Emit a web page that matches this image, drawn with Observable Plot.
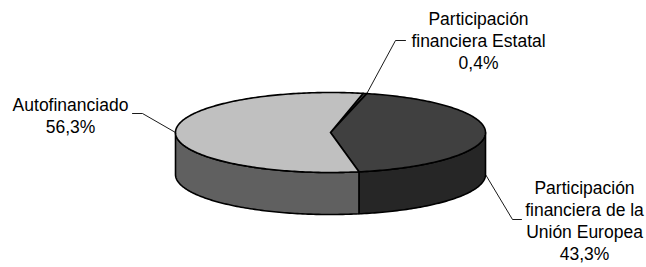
<!DOCTYPE html>
<html>
<head>
<meta charset="utf-8">
<script src="https://cdn.jsdelivr.net/npm/d3@7"></script>
<script src="https://cdn.jsdelivr.net/npm/@observablehq/plot@0.6"></script>
<style>
  html, body { margin: 0; padding: 0; background: #fff; }
  #chart svg { display: block; background: #fff; }
</style>
</head>
<body>
<div id="chart"></div>
<script>
// ---- data ----
const categories = ["Participación financiera Estatal", "Participación financiera de la Unión Europea", "Autofinanciado"];
const shares = [0.4, 43.3, 56.3];
const shareLabels = ["0,4%", "43,3%", "56,3%"];
const labelLines = ["Participación\nfinanciera Estatal", "Participación\nfinanciera de la\nUnión Europea", "Autofinanciado"];
const topColors = ["#404040", "#404040", "#c0c0c0"];
const sideColors = ["#262626", "#262626", "#606060"];

// ---- layout ----
const W = 646, H = 267;
const CX = 330, CY = 132, RX = 155, RY = 40, DEPTH = 42, START = 12.1;
const labelPos = [[478, 39], [584, 219.5], [70, 114]];
const elbows = [[[395, 40], [405, 40]], [[512, 219], [521, 219]], [[142, 113], [132, 113]]];

const rad = d => d * Math.PI / 180;
const pt = (deg, dz = 0) => ({x: CX + RX * Math.sin(rad(deg)), y: CY - RY * Math.cos(rad(deg)) + dz});
const arc = (a, b, dz) => {
  const n = Math.max(2, Math.ceil(Math.abs(b - a)));
  return d3.range(n + 1).map(i => pt(a + (b - a) * i / n, dz));
};

const total = d3.sum(shares);
let acc = START;
const slices = categories.map((c, i) => {
  const a0 = acc, a1 = acc + shares[i] / total * 360;
  acc = a1;
  return {i, a0, a1};
});

// side walls (front half 90..270 deg, and 450..630)
const sideRows = [];
slices.forEach(s => {
  [[90, 270], [450, 630]].forEach(([lo, hi], k) => {
    const a = Math.max(s.a0, lo), b = Math.min(s.a1, hi);
    if (b > a) {
      const pts = [...arc(a, b, 0), ...arc(b, a, DEPTH)];
      pts.push(pts[0]);
      pts.forEach(p => sideRows.push({id: `side${s.i}_${k}`, x: p.x, y: p.y, fill: sideColors[s.i]}));
    }
  });
});

// top faces
const topRows = [];
slices.forEach(s => {
  const c = {x: CX, y: CY};
  const pts = [c, ...arc(s.a0, s.a1, 0), c];
  pts.forEach(p => topRows.push({id: `top${s.i}`, x: p.x, y: p.y, fill: topColors[s.i]}));
});

// leader lines
const anchors = [pt(slices[0].a1, 0), pt(90, DEPTH), pt(270, 0)];
const leaderRows = [];
slices.forEach(s => {
  const a = anchors[s.i];
  [a, ...elbows[s.i].map(([x, y]) => ({x, y}))].forEach(p => leaderRows.push({id: s.i, x: p.x, y: p.y}));
});

const textRows = slices.map(s => ({
  x: labelPos[s.i][0], y: labelPos[s.i][1],
  text: labelLines[s.i] + "\n" + shareLabels[s.i]
}));

const chart = Plot.plot({
  width: W, height: H, margin: 0,
  style: {fontFamily: "'Liberation Sans', Arial, sans-serif", background: "#fff"},
  x: {domain: [0, W], range: [0, W], axis: null},
  y: {domain: [0, H], range: [0, H], axis: null},
  color: {type: "identity"},
  marks: [
    Plot.line(sideRows, {x: "x", y: "y", z: "id", fill: "fill", stroke: "#000", strokeWidth: 1.6, strokeLinejoin: "round", curve: "linear"}),
    Plot.line(topRows, {x: "x", y: "y", z: "id", fill: "fill", stroke: "#000", strokeWidth: 1.6, strokeLinejoin: "round", curve: "linear"}),
    Plot.line(leaderRows, {x: "x", y: "y", z: "id", stroke: "#000", strokeWidth: 0.9, curve: "linear"}),
    Plot.text(textRows, {x: "x", y: "y", text: "text", fontSize: 17.5, lineHeight: 1.26, textAnchor: "middle", fill: "#000"})
  ]
});
document.getElementById("chart").appendChild(chart);
</script>
</body>
</html>
